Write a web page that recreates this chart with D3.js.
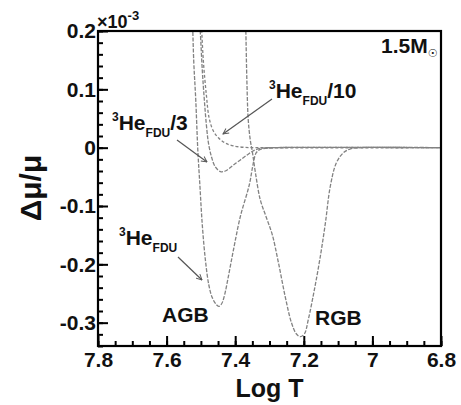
<!DOCTYPE html>
<html>
<head>
<meta charset="utf-8">
<script src="https://cdn.jsdelivr.net/npm/d3@7"></script>
<style>
  html, body { margin: 0; padding: 0; background: #fff; }
  svg text { font-family: "Liberation Sans", Arial, sans-serif; font-weight: bold; fill: #111; }
</style>
</head>
<body>
<svg id="chart" width="461" height="405"></svg>
<script>
// ---- data (log T, delta mu / mu in units of 1e-3) ----
const xTickValues = [7.8, 7.6, 7.4, 7.2, 7.0, 6.8];
const xTickLabels = ["7.8", "7.6", "7.4", "7.2", "7", "6.8"];
const yTickValues = [0.2, 0.1, 0, -0.1, -0.2, -0.3];
const yTickLabels = ["0.2", "0.1", "0", "-0.1", "-0.2", "-0.3"];

const agbLogT = [7.525, 7.521, 7.515, 7.509, 7.503, 7.496, 7.487, 7.477, 7.467, 7.455, 7.448, 7.440, 7.432, 7.420, 7.405, 7.385, 7.359, 7.348, 7.339, 7.327, 7.306, 7.283, 6.8];
const agbVal  = [0.236, 0.150, 0.082, -0.004, -0.064, -0.132, -0.192, -0.235, -0.257, -0.269, -0.272, -0.268, -0.255, -0.221, -0.175, -0.118, -0.064, -0.029, -0.009, -0.003, -0.001, 0, 0];

const third3LogT = [7.505, 7.502, 7.496, 7.490, 7.484, 7.478, 7.469, 7.458, 7.443, 7.429, 7.408, 7.385, 7.364, 7.346, 7.326, 7.297, 6.8];
const third3Val  = [0.219, 0.200, 0.133, 0.082, 0.039, 0.008, -0.016, -0.033, -0.041, -0.040, -0.031, -0.021, -0.012, -0.005, -0.001, 0, 0];

const tenthLogT = [7.499, 7.493, 7.484, 7.476, 7.464, 7.449, 7.429, 7.405, 7.371, 7.341, 6.8];
const tenthVal  = [0.219, 0.150, 0.090, 0.051, 0.029, 0.017, 0.008, 0.003, 0.0005, 0, 0];

const rgbLogT = [7.370, 7.369, 7.366, 7.362, 7.356, 7.350, 7.341, 7.327, 7.309, 7.292, 7.274, 7.254, 7.236, 7.222, 7.210, 7.198, 7.187, 7.169, 7.152, 7.137, 7.123, 7.105, 7.085, 7.064, 7.035, 6.8];
const rgbVal  = [0.219, 0.200, 0.116, 0.048, 0.013, -0.007, -0.043, -0.089, -0.120, -0.149, -0.197, -0.256, -0.300, -0.319, -0.324, -0.319, -0.295, -0.243, -0.187, -0.129, -0.067, -0.026, -0.009, -0.002, 0, 0];

// ---- layout ----
const svg = d3.select("#chart");
const L = 98, R = 441, T = 31, B = 346;
const x = d3.scaleLinear().domain([7.8, 6.8]).range([L, R]);
const y = d3.scaleLinear().domain([-0.34, 0.2]).range([B, T]);

svg.append("defs").append("clipPath").attr("id", "plotclip")
  .append("rect").attr("x", L).attr("y", T).attr("width", R - L).attr("height", B - T);

svg.select("defs").append("marker")
  .attr("id", "arrow").attr("viewBox", "0 0 10 10").attr("refX", 9).attr("refY", 5)
  .attr("markerWidth", 7).attr("markerHeight", 7).attr("orient", "auto")
  .attr("markerUnits", "userSpaceOnUse")
  .append("path").attr("d", "M1,1 L9,5 L1,9").attr("fill", "none")
  .attr("stroke", "#555").attr("stroke-width", 1.3);

// ---- curves ----
const series = [
  { t: agbLogT, v: agbVal, dash: "4,1.5" },
  { t: third3LogT, v: third3Val, dash: "4,1.5" },
  { t: tenthLogT, v: tenthVal, dash: "3,2" },
  { t: rgbLogT, v: rgbVal, dash: "4,1.5" }
];
const g = svg.append("g").attr("clip-path", "url(#plotclip)");
series.forEach(s => {
  const pts = s.t.map((t, i) => [t, s.v[i]]);
  g.append("path").datum(pts)
    .attr("d", d3.line().x(d => x(d[0])).y(d => y(d[1])).curve(d3.curveCatmullRom.alpha(0.5)))
    .attr("fill", "none").attr("stroke", "#828282").attr("stroke-width", 1.3)
    .attr("stroke-dasharray", s.dash);
});

// ---- axes ----
const yMinor = d3.range(-0.34, 0.2001, 0.02).map(v => +v.toFixed(2));
const xMinor = d3.range(6.8, 7.8001, 0.05).map(v => +v.toFixed(2));

svg.append("g").attr("transform", `translate(${L},0)`)
  .call(d3.axisLeft(y).tickValues(yMinor).tickSize(-5).tickFormat(""))
  .call(a => a.select(".domain").remove())
  .selectAll("line").attr("stroke", "#000").attr("stroke-width", 2);

svg.append("g").attr("transform", `translate(${L},0)`)
  .call(d3.axisLeft(y).tickValues(yTickValues).tickSize(-10).tickPadding(2)
    .tickFormat((d, i) => yTickLabels[i]))
  .call(a => a.select(".domain").remove())
  .call(a => a.selectAll("line").attr("stroke", "#000").attr("stroke-width", 2))
  .call(a => a.selectAll("text").attr("font-size", 21).attr("font-family", "Liberation Sans, Arial, sans-serif").attr("font-weight", "bold").attr("fill", "#111"));

svg.append("g").attr("transform", `translate(0,${B})`)
  .call(d3.axisBottom(x).tickValues(xMinor).tickSize(-5).tickFormat(""))
  .call(a => a.select(".domain").remove())
  .selectAll("line").attr("stroke", "#000").attr("stroke-width", 2);

svg.append("g").attr("transform", `translate(0,${B})`)
  .call(d3.axisBottom(x).tickValues(xTickValues).tickSize(-10).tickPadding(6)
    .tickFormat((d, i) => xTickLabels[i]))
  .call(a => a.select(".domain").remove())
  .call(a => a.selectAll("line").attr("stroke", "#000").attr("stroke-width", 2))
  .call(a => a.selectAll("text").attr("font-size", 21).attr("font-family", "Liberation Sans, Arial, sans-serif").attr("font-weight", "bold").attr("fill", "#111"));

// frame
svg.append("rect").attr("x", L).attr("y", T).attr("width", R - L).attr("height", B - T)
  .attr("fill", "none").attr("stroke", "#000").attr("stroke-width", 2.2);

// ---- texts ----
const ex = svg.append("text").attr("x", 97).attr("y", 28).attr("font-size", 18);
ex.append("tspan").text("×10");
ex.append("tspan").attr("font-size", 13).attr("dy", -8).text("-3");

svg.append("text").attr("x", (L + R) / 2).attr("y", 397).attr("text-anchor", "middle")
  .attr("font-size", 25).text("Log T");
svg.append("text").attr("transform", "translate(41,188) rotate(-90)").attr("text-anchor", "middle")
  .attr("font-size", 30).text("Δμ/μ");

const ml = svg.append("text").attr("x", 381).attr("y", 53).attr("font-size", 21);
ml.append("tspan").text("1.5M");
ml.append("tspan").attr("font-size", 11).attr("dy", 4).attr("font-family", "DejaVu Sans").attr("font-weight", "normal").text("☉");

function heLabel(x0, y0, suffix) {
  const t = svg.append("text").attr("x", x0).attr("y", y0).attr("font-size", 21);
  t.append("tspan").attr("font-size", 12).attr("dy", -9).text("3");
  t.append("tspan").attr("dy", 9).text("He");
  t.append("tspan").attr("font-size", 12).attr("dy", 7).text("FDU");
  if (suffix) t.append("tspan").attr("dy", -7).text(suffix);
}
heLabel(269, 98, "/10");
heLabel(112, 130, "/3");
heLabel(119, 245, null);

svg.append("text").attr("x", 162).attr("y", 322).attr("font-size", 21).text("AGB");
svg.append("text").attr("x", 315).attr("y", 325).attr("font-size", 21).text("RGB");

const arrows = [
  [[272, 99], [223, 134]],
  [[177, 140], [207, 162]],
  [[178, 257], [202, 280]]
];
arrows.forEach(a => {
  svg.append("line").attr("x1", a[0][0]).attr("y1", a[0][1]).attr("x2", a[1][0]).attr("y2", a[1][1])
    .attr("stroke", "#555").attr("stroke-width", 1.2).attr("marker-end", "url(#arrow)");
});
</script>
</body>
</html>
